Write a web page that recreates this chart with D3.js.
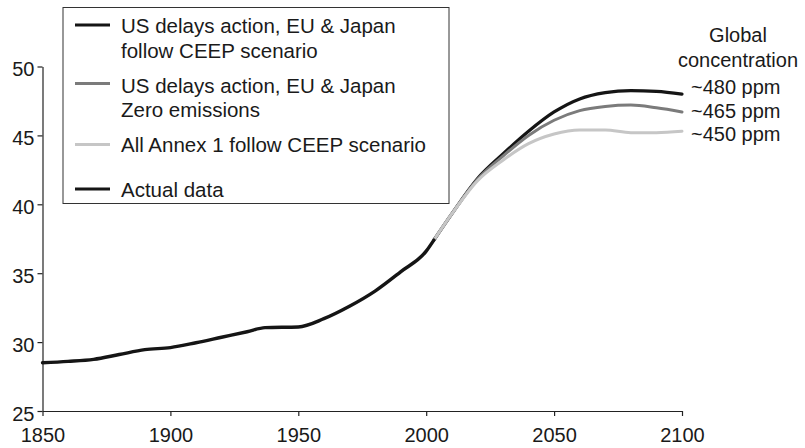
<!DOCTYPE html>
<html><head><meta charset="utf-8">
<script src="https://cdn.jsdelivr.net/npm/d3@7"></script>
<style>
body{margin:0;background:#fff}
text{font-family:"Liberation Sans",Arial,Helvetica,sans-serif;fill:#1a1a1a}
</style>
</head><body><svg id="c" width="805" height="448"></svg>
<script>
// ---- data ----
const actualYears  = [1850, 1860, 1870, 1880, 1890, 1900, 1910, 1920, 1930, 1937, 1950, 1960, 1970, 1980, 1990, 2000, 2003];
const actualValues = [28.5, 28.6, 28.75, 29.1, 29.45, 29.6, 29.95, 30.35, 30.75, 31.05, 31.1, 31.7, 32.6, 33.7, 35.1, 36.6, 37.4];

const scenarioYears = [2003, 2010, 2020, 2030, 2040, 2050, 2060, 2070, 2080, 2090, 2100];
const usDelaysCEEP  = [37.4, 39.3, 41.85, 43.65, 45.3, 46.7, 47.65, 48.1, 48.25, 48.2, 48.0];
const usDelaysZero  = [37.4, 39.3, 41.8, 43.5, 45.0, 46.1, 46.8, 47.1, 47.2, 47.0, 46.7];
const allAnnexCEEP  = [37.4, 39.3, 41.7, 43.2, 44.4, 45.1, 45.4, 45.4, 45.2, 45.2, 45.3];

const xTicks = [1850, 1900, 1950, 2000, 2050, 2100];
const yTicks = [25, 30, 35, 40, 45, 50];

const legendLabels = [
  ["US delays action, EU & Japan", "follow CEEP scenario"],
  ["US delays action, EU & Japan", "Zero emissions"],
  ["All Annex 1 follow CEEP scenario"],
  ["Actual data"]
];
const endLabels = ["~480 ppm", "~465 ppm", "~450 ppm"];
const headerLines = ["Global", "concentration"];

// ---- styles ----
const colBlack = "#151515", colDark = "#7b7b7b", colLight = "#c6c6c6";

const svg = d3.select("#c");
const x = d3.scaleLinear().domain([1850, 2100]).range([42.5, 682]);
const y = d3.scaleLinear().domain([25, 50]).range([411, 66.5]);

// axes
const xAxis = svg.append("g").attr("transform", "translate(0,411)")
  .call(d3.axisBottom(x).tickValues(xTicks).tickFormat(d3.format("d")).tickSize(5).tickSizeOuter(0).tickPadding(12));
const yAxis = svg.append("g").attr("transform", "translate(42.5,0)")
  .call(d3.axisLeft(y).tickValues(yTicks).tickSize(5).tickSizeOuter(0).tickPadding(3));
[xAxis, yAxis].forEach(g => {
  g.select(".domain").attr("stroke", "#222").attr("stroke-width", 1.2);
  g.selectAll(".tick line").attr("stroke", "#222").attr("stroke-width", 1.2);
  g.selectAll(".tick text").attr("font-size", 20).attr("fill", "#1a1a1a")
    .style("font-family", '"Liberation Sans",Arial,Helvetica,sans-serif');
});
yAxis.selectAll(".tick text").attr("dy", "0.45em");

// lines
const line = d3.line().x(d => x(d[0])).y(d => y(d[1])).curve(d3.curveMonotoneX);
const series = [
  {vals: usDelaysCEEP, color: colBlack, w: 3.2},
  {vals: usDelaysZero, color: colDark, w: 3},
  {vals: allAnnexCEEP, color: colLight, w: 3}
];
series.forEach(s => {
  svg.append("path")
    .datum(scenarioYears.map((yr, i) => [yr, s.vals[i]]))
    .attr("d", line).attr("fill", "none")
    .attr("stroke", s.color).attr("stroke-width", s.w).attr("stroke-linecap", "round");
});
svg.append("path")
  .datum(actualYears.map((yr, i) => [yr, actualValues[i]]))
  .attr("d", line).attr("fill", "none")
  .attr("stroke", colBlack).attr("stroke-width", 3.4).attr("stroke-linecap", "round");

// legend
const lg = svg.append("g");
lg.append("rect").attr("x", 63).attr("y", 7.5).attr("width", 386).attr("height", 196)
  .attr("fill", "#fff").attr("stroke", "#333").attr("stroke-width", 1);
const legendColors = [colBlack, colDark, colLight, colBlack];
const legendSampleY = [25, 83.5, 144.5, 189];
const legendBaselines = [[33, 57.5], [93, 117], [152], [197]];
legendLabels.forEach((lines, i) => {
  lg.append("line").attr("x1", 75).attr("x2", 110)
    .attr("y1", legendSampleY[i]).attr("y2", legendSampleY[i])
    .attr("stroke", legendColors[i]).attr("stroke-width", 3);
  lines.forEach((t, j) => {
    lg.append("text").attr("x", 121).attr("y", legendBaselines[i][j])
      .attr("font-size", 20.5).text(t);
  });
});

// right-hand annotations
svg.selectAll("text.hdr").data(headerLines).enter().append("text")
  .attr("class", "hdr").attr("x", 738).attr("y", (d, i) => 41.5 + i * 25)
  .attr("text-anchor", "middle").attr("font-size", 20).text(d => d);
const endBaselines = [94, 117.5, 141];
svg.selectAll("text.end").data(endLabels).enter().append("text")
  .attr("class", "end").attr("x", 691).attr("y", (d, i) => endBaselines[i])
  .attr("font-size", 20).text(d => d);
</script>
</body></html>
